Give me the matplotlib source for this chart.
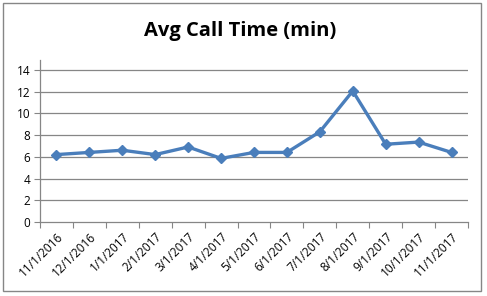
import matplotlib.pyplot as plt
from matplotlib.patches import Rectangle

months = ['11/1/2016', '12/1/2016', '1/1/2017', '2/1/2017', '3/1/2017', '4/1/2017',
          '5/1/2017', '6/1/2017', '7/1/2017', '8/1/2017', '9/1/2017', '10/1/2017', '11/1/2017']
call_time = [6.2, 6.4, 6.6, 6.2, 6.9, 5.85, 6.4, 6.4, 8.3, 12.05, 7.15, 7.35, 6.4]
y_ticks = [0, 2, 4, 6, 8, 10, 12, 14]

plt.rcParams['font.family'] = ['Open Sans', 'DejaVu Sans']

W, H = 487, 296
fig = plt.figure(figsize=(W / 100, H / 100), dpi=100)

# chart border
fig.patches.append(Rectangle((2.5 / W, 1 - 291 / H), 478 / W, 288 / H,
                             transform=fig.transFigure, fill=False,
                             edgecolor='#868686', linewidth=1.0))

ax = fig.add_axes([40 / W, 1 - 222 / H, 428 / W, 162 / H])
x = range(len(months))
ax.plot(x, call_time, color='#4A7EBB', linewidth=2.4, marker='D', markersize=5,
        markerfacecolor='#4A7EBB', markeredgecolor='#4A7EBB', zorder=3)

ax.set_xlim(-0.5, len(months) - 0.5)
ax.set_ylim(0, 14.9)
ax.set_yticks(y_ticks)
ax.set_yticklabels([str(v) for v in y_ticks], fontsize=8.5)
for v in y_ticks[1:]:
    ax.axhline(v, color='#868686', linewidth=0.9, zorder=1)

ax.set_xticks([i - 0.5 for i in range(len(months) + 1)], minor=False)
ax.set_xticklabels([''] * (len(months) + 1))
ax.set_xticks(list(x), minor=True)
ax.set_xticklabels(months, minor=True, rotation=45, ha='right', rotation_mode='anchor', fontsize=8.5)
ax.tick_params(axis='x', which='minor', length=0, pad=6)
ax.tick_params(axis='x', which='major', length=4, color='#868686')
ax.tick_params(axis='y', length=4, color='#868686', pad=3)

for s in ['top', 'right']:
    ax.spines[s].set_visible(False)
for s in ['left', 'bottom']:
    ax.spines[s].set_color('#868686')
    ax.spines[s].set_linewidth(0.9)

fig.text(240 / W, 1 - 31 / H, 'Avg Call Time (min)', ha='center', va='center',
         fontsize=14.5, fontweight='bold')

fig.savefig('out.png', dpi=100)
